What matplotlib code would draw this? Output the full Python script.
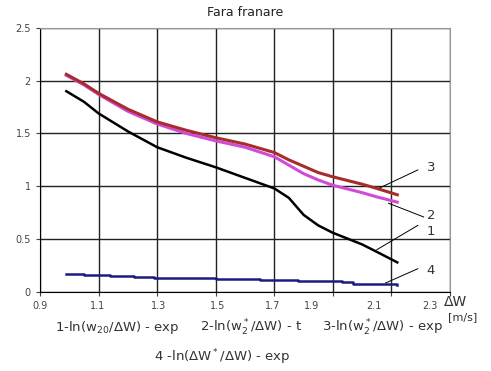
import matplotlib.pyplot as plt
from matplotlib.transforms import ScaledTranslation

# curve data
x_main = [0.99, 1.05, 1.1, 1.2, 1.3, 1.4, 1.5, 1.6, 1.7, 1.75, 1.8, 1.85, 1.9, 2.0, 2.05, 2.12]
y1 = [1.90, 1.80, 1.69, 1.52, 1.37, 1.27, 1.18, 1.08, 0.98, 0.89, 0.73, 0.63, 0.56, 0.45, 0.38, 0.28]
y2 = [2.05, 1.96, 1.87, 1.71, 1.59, 1.50, 1.43, 1.37, 1.28, 1.20, 1.12, 1.06, 1.01, 0.94, 0.90, 0.85]
y3 = [2.06, 1.97, 1.88, 1.73, 1.61, 1.53, 1.46, 1.40, 1.32, 1.25, 1.19, 1.13, 1.09, 1.02, 0.98, 0.92]

x4 = [0.99, 1.05, 1.14, 1.22, 1.29, 1.50, 1.65, 1.78, 1.93, 1.97, 2.12]
y4 = [0.17, 0.16, 0.15, 0.14, 0.13, 0.12, 0.11, 0.10, 0.09, 0.08, 0.07]

x_ticks = [0.9, 1.1, 1.3, 1.5, 1.7, 1.9, 2.1, 2.3]
y_ticks = [0, 0.5, 1, 1.5, 2, 2.5]

# label number, line start (x, y), line end (x, y), text position (x, y)
labels = ["3", "2", "1", "4"]
label_from = [(2.06, 0.985), (2.09, 0.84), (2.05, 0.40), (2.08, 0.085)]
label_to = [(2.19, 1.155), (2.21, 0.71), (2.19, 0.63), (2.19, 0.22)]
label_text = [(2.22, 1.18), (2.22, 0.72), (2.22, 0.57), (2.22, 0.20)]

fig = plt.figure(figsize=(4.91, 3.71), dpi=100)
ax = fig.add_axes([0.0815, 0.213, 0.835, 0.712])

ax.plot(x_main, y3, color='#a82c2c', lw=2.2, zorder=4)
ax.plot(x_main, y2, color='#d04cd8', lw=2.2, zorder=3)
ax.plot(x_main, y1, color='black', lw=1.8, zorder=3)
ax.plot(x4, y4, color='#1c1c80', lw=1.8, drawstyle='steps-post', zorder=3)

for lab, p0, p1, pt in zip(labels, label_from, label_to, label_text):
    ax.plot([p0[0], p1[0]], [p0[1], p1[1]], color='black', lw=0.7, zorder=5)
    ax.text(pt[0], pt[1], lab, fontsize=9.5, color='#333333', ha='left', va='center')

ax.set_xlim(0.9, 2.3)
ax.set_ylim(0, 2.5)
ax.set_xticks(x_ticks)
ax.set_yticks(y_ticks)
ax.set_xticklabels([str(v) for v in x_ticks])
ax.set_yticklabels(['0', '0.5', '1', '1.5', '2', '2.5'])
ax.tick_params(labelsize=7, colors='#444444', length=3, width=0.8)
ax.grid(True, color='#222222', lw=1.0)
ax.set_axisbelow(True)

# the scanned original has its last x labels drawn a little to the left
label_shift_px = [0, -1, 1, 2, -2, -21, -17, -20]
for t, dx in zip(ax.get_xticklabels(), label_shift_px):
    t.set_transform(t.get_transform() + ScaledTranslation(dx / 100, 0, fig.dpi_scale_trans))

ax.spines['left'].set_color('black')
ax.spines['bottom'].set_color('black')
ax.spines['top'].set_color('#999999')
ax.spines['right'].set_color('#999999')

fig.text(0.5, 0.967, 'Fara franare', ha='center', va='center', fontsize=9, color='#222222')
fig.text(0.905, 0.186, 'ΔW', ha='left', va='center', fontsize=10, color='#333333')
fig.text(0.913, 0.146, '[m/s]', ha='left', va='center', fontsize=8, color='#333333')

fs = 9.5
fig.text(0.239, 0.116, r'1-ln(w$_{20}$/ΔW) - exp', ha='center', va='center', fontsize=fs, color='#333333')
fig.text(0.511, 0.116, r'2-ln(w$_2^*$/ΔW) - t', ha='center', va='center', fontsize=fs, color='#333333')
fig.text(0.778, 0.116, r'3-ln(w$_2^*$/ΔW) - exp', ha='center', va='center', fontsize=fs, color='#333333')
fig.text(0.453, 0.038, r'4 -ln(ΔW$^*$/ΔW) - exp', ha='center', va='center', fontsize=fs, color='#333333')

fig.savefig('out.png', dpi=100)
